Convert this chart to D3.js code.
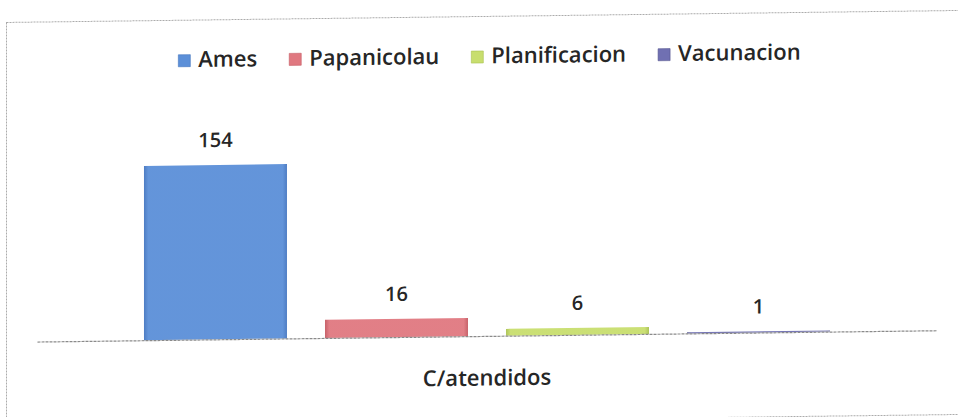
<!DOCTYPE html>
<html>
<head>
<meta charset="utf-8">
<script src="https://cdn.jsdelivr.net/npm/d3@7"></script>
<style>
  html, body { margin: 0; padding: 0; background: #fff; }
  svg { display: block; }
  text { font-family: "Open Sans", "Noto Sans", sans-serif; fill: #262626; font-weight: 600; }
</style>
</head>
<body>
<svg id="chart" width="958" height="417"></svg>
<script>
// Chart data
const categories = ["C/atendidos"];
const seriesNames = ["Ames", "Papanicolau", "Planificacion", "Vacunacion"];
const seriesValues = [154, 16, 6, 1];
const seriesColors = ["#5b8fd8", "#e07880", "#c8de6e", "#7070b2"];
const seriesEdges = ["#4576c0", "#c45a62", "#a9c150", "#55558f"];

const W = 958, H = 417;
const svg = d3.select("#chart");

// gradients giving the bars a soft bevelled look
const defs = svg.append("defs");
seriesNames.forEach((name, i) => {
  const g = defs.append("linearGradient")
    .attr("id", "grad" + i).attr("x1", "0").attr("x2", "1").attr("y1", "0").attr("y2", "0");
  g.append("stop").attr("offset", "0%").attr("stop-color", seriesEdges[i]);
  g.append("stop").attr("offset", "3%").attr("stop-color", seriesColors[i]);
  g.append("stop").attr("offset", "97%").attr("stop-color", seriesColors[i]);
  g.append("stop").attr("offset", "100%").attr("stop-color", seriesEdges[i]);
});

// whole chart sits slightly askew
const root = svg.append("g")
  .attr("transform", "translate(480,336) skewY(-0.72) translate(-480,-336)");

// chart frame
root.append("rect")
  .attr("x", 6.5).attr("y", 16.5).attr("width", 980).attr("height", 404)
  .attr("fill", "none").attr("stroke", "#ababab").attr("stroke-width", 1)
  .attr("stroke-dasharray", "2,1");

// scales
const x0 = d3.scaleBand().domain(categories).range([37, 937])
  .paddingInner(0).paddingOuter(0.1215);
const x1 = d3.scaleBand().domain(seriesNames).range([0, x0.bandwidth()])
  .paddingInner(0.21).paddingOuter(0.105);
const y = d3.scaleLinear().domain([0, 180]).range([336, 336 - 180 * 1.132]);

// bars
const rows = seriesNames.map((name, i) => ({ name, value: seriesValues[i], i }));
const cat = root.append("g").attr("transform", `translate(${x0(categories[0])},0)`);
cat.selectAll("rect.bar").data(rows).join("rect")
  .attr("class", "bar")
  .attr("x", d => x1(d.name))
  .attr("y", d => y(d.value))
  .attr("width", x1.bandwidth())
  .attr("height", d => y(0) - y(d.value))
  .attr("fill", d => `url(#grad${d.i})`)
  .attr("opacity", 0.95);

// value labels
cat.selectAll("text.val").data(rows).join("text")
  .attr("class", "val")
  .attr("x", d => x1(d.name) + x1.bandwidth() / 2)
  .attr("y", d => y(d.value) - 18)
  .attr("text-anchor", "middle")
  .style("font-size", "20px")
  .text(d => d.value);

// category axis
const axis = root.append("g").attr("transform", `translate(0,${y(0)})`)
  .call(d3.axisBottom(x0).tickSizeInner(0).tickSizeOuter(0).tickPadding(34));
axis.select(".domain").attr("stroke", "#8a8a8a").attr("stroke-width", 1.2)
  .attr("stroke-dasharray", "3,1");
axis.selectAll("text").style("font-size", "22px").attr("fill", "#262626")
  .style("font-family", "'Open Sans', 'Noto Sans', sans-serif")
  .style("font-weight", 600);

// legend, centred above the plot
const legend = root.append("g");
const items = legend.selectAll("g").data(rows).join("g");
items.append("rect")
  .attr("width", 12).attr("height", 12).attr("y", 51)
  .attr("fill", d => seriesColors[d.i])
  .attr("stroke", d => seriesEdges[d.i]).attr("stroke-width", 0.6);
items.append("text")
  .attr("x", 20).attr("y", 63.5)
  .style("font-size", "22px")
  .text(d => d.name);
const widths = [];
items.each(function () {
  widths.push(d3.select(this).select("text").node().getComputedTextLength());
});
const total = widths.reduce((a, w) => a + 20 + w, 0) + 32 * (widths.length - 1);
let cursor = 489.5 - total / 2;
items.attr("transform", (d, i) => {
  const t = `translate(${cursor},0)`;
  cursor += 20 + widths[i] + 32;
  return t;
});
</script>
</body>
</html>
